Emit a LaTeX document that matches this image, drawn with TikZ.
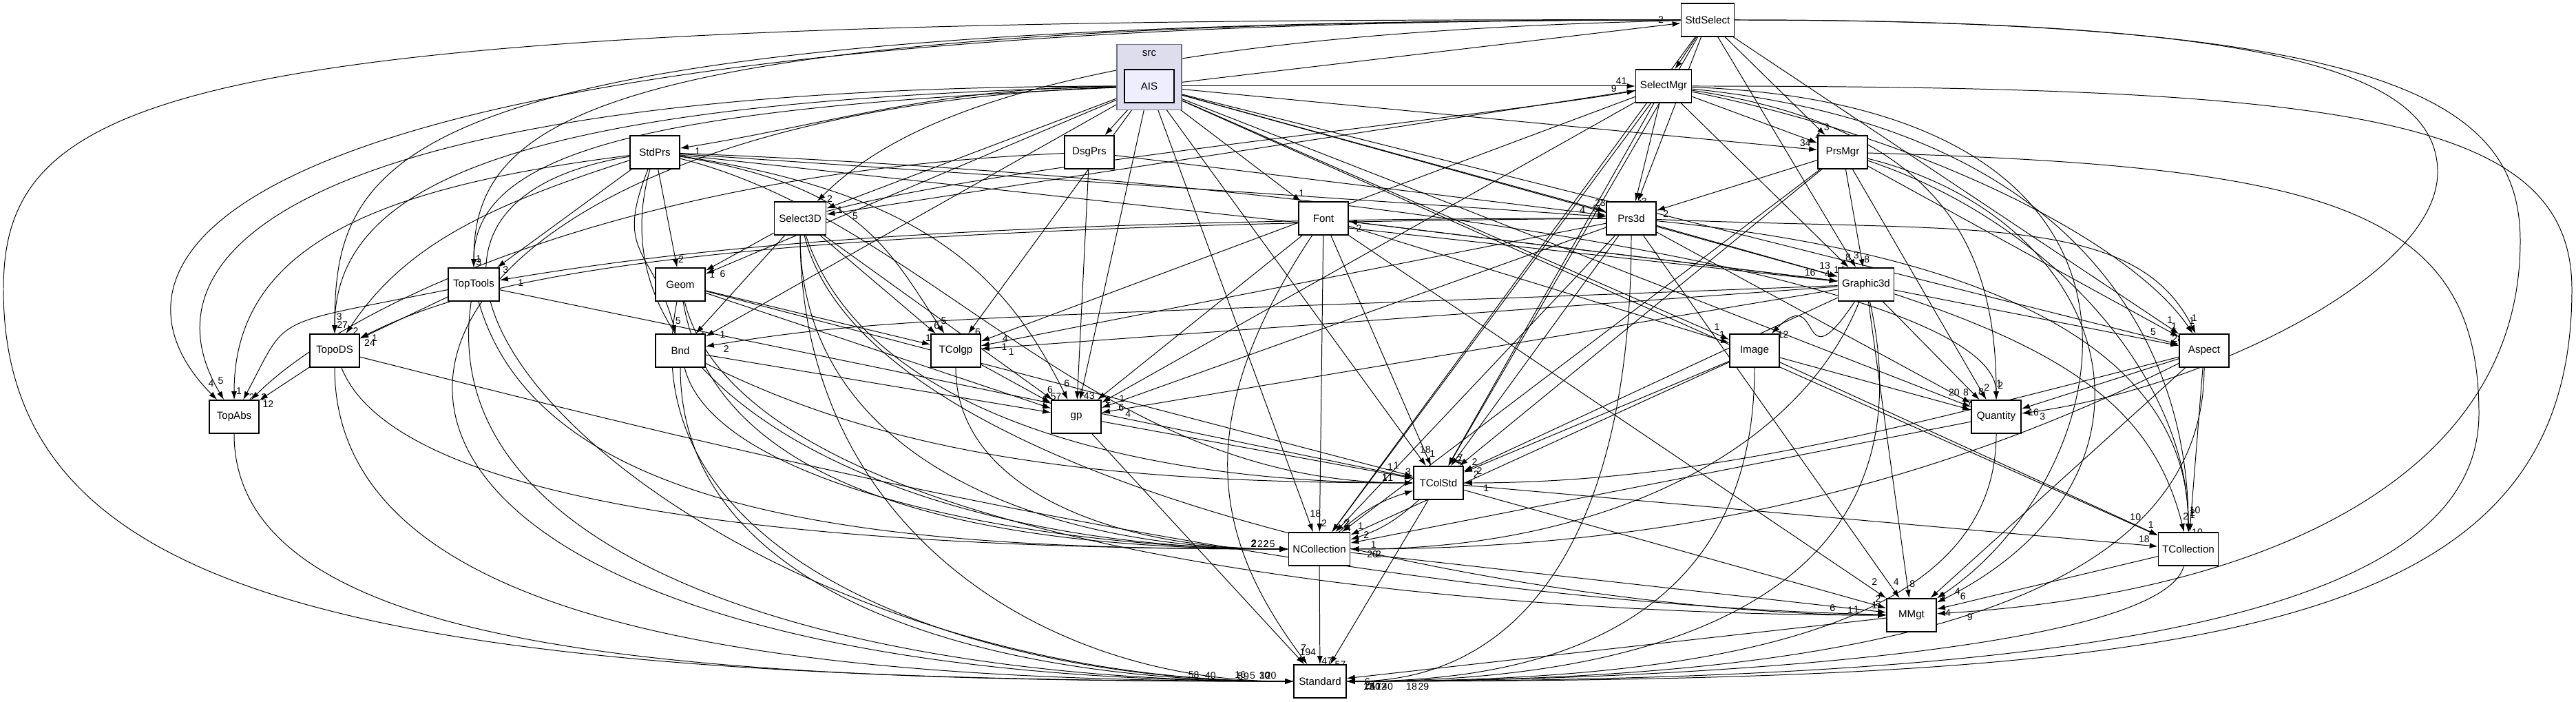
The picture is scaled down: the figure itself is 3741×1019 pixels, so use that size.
\documentclass[tikz,border=0pt]{standalone}
\usepackage{fontspec}
\setmainfont{Liberation Sans}
\usetikzlibrary{arrows.meta,backgrounds}
\definecolor{srcfill}{HTML}{DDDDEE}
\definecolor{srcline}{HTML}{6E6E8A}
\definecolor{aisfill}{HTML}{EEEEFF}
\begin{document}
\begin{tikzpicture}[
  x=0.01cm, y=-0.01cm,
  dirbox/.style={draw, line width=0.45pt, fill=white, minimum width=0.72cm, minimum height=0.48cm, inner sep=1pt, font=\fontsize{4.3}{5}\selectfont},
  dep/.style={->, line width=0.28pt},
  num/.style={auto, pos=0.97, font=\fontsize{4}{4}\selectfont, inner sep=0.6pt},
  >={Latex[length=1.2mm,width=0.8mm]}
]
  \useasboundingbox (0,0) rectangle (3741,1019);

  \node[draw=srcline, line width=0.45pt, fill=srcfill, minimum width=0.94cm, minimum height=0.95cm] (srcbox) at (1669,112) {};
  \node[font=\fontsize{4.3}{5}\selectfont] (srclabel) at (1669,78) {src};
  \node[dirbox, fill=aisfill] (AIS) at (1669,125) {AIS};

  \node[dirbox, minimum width=0.77cm] (StdSelect) at (2480,29) {StdSelect};
  \node[dirbox, minimum width=0.81cm] (SelectMgr) at (2416,125) {SelectMgr};
  \node[dirbox] (StdPrs) at (951,221) {StdPrs};
  \node[dirbox] (DsgPrs) at (1582,221) {DsgPrs};
  \node[dirbox] (PrsMgr) at (2676,221) {PrsMgr};
  \node[dirbox, minimum width=0.75cm] (Select3D) at (1162,317) {Select3D};
  \node[dirbox] (Font) at (1922,317) {Font};
  \node[dirbox] (Prs3d) at (2369,317) {Prs3d};
  \node[dirbox, minimum width=0.74cm] (TopTools) at (688,413) {TopTools};
  \node[dirbox] (Geom) at (988,413) {Geom};
  \node[dirbox, minimum width=0.81cm] (Graphic3d) at (2710,413) {Graphic3d};
  \node[dirbox] (TopoDS) at (486,509) {TopoDS};
  \node[dirbox] (Bnd) at (988,509) {Bnd};
  \node[dirbox] (TColgp) at (1388,509) {TColgp};
  \node[dirbox] (Image) at (2548,509) {Image};
  \node[dirbox] (Aspect) at (3201,509) {Aspect};
  \node[dirbox] (TopAbs) at (340,605) {TopAbs};
  \node[dirbox] (gp) at (1563,605) {gp};
  \node[dirbox] (Quantity) at (2899,605) {Quantity};
  \node[dirbox] (TColStd) at (2089,701) {TColStd};
  \node[dirbox, minimum width=0.89cm] (NCollection) at (1916,797) {NCollection};
  \node[dirbox, minimum width=0.87cm] (TCollection) at (3178,797) {TCollection};
  \node[dirbox] (MMgt) at (2776,893) {MMgt};
  \node[dirbox, minimum width=0.76cm] (Standard) at (1917,989) {Standard};

  \begin{pgfonlayer}{background}
  \draw[dep] (AIS) -- (StdSelect) node[num]{2};
  \draw[dep] (AIS) -- (SelectMgr) node[num]{41};
  \draw[dep] (AIS) -- (DsgPrs) node[num]{7};
  \draw[dep] (AIS) .. controls +(-300,0) and +(250,-40) .. (StdPrs) node[num]{1};
  \draw[dep] (AIS) -- (Select3D) node[num]{1};
  \draw[dep] (AIS) -- (Font) node[num]{1};
  \draw[dep] (AIS) -- (Prs3d) node[num]{23};
  \draw[dep] (AIS) -- (PrsMgr) node[num]{34};
  \draw[dep] (AIS) -- (Graphic3d) node[num]{13};
  \draw[dep] (AIS) -- (Geom) node[num]{6};
  \draw[dep] (AIS) .. controls +(-700,30) and +(0,-200) .. (TopTools) node[num]{3};
  \draw[dep] (AIS) .. controls +(-900,20) and +(0,-250) .. (TopoDS) node[num]{27};
  \draw[dep] (AIS) .. controls +(-1200,0) and +(-150,-250) .. (TopAbs) node[num]{5};
  \draw[dep] (AIS) -- (Bnd) node[num]{1};
  \draw[dep] (AIS) -- (TColgp) node[num]{6};
  \draw[dep] (AIS) -- (gp) node[num]{43};
  \draw[dep] (AIS) -- (Image) node[num]{1};
  \draw[dep] (AIS) -- (Aspect) node[num]{5};
  \draw[dep] (AIS) -- (Quantity) node[num]{20};
  \draw[dep] (AIS) -- (TColStd) node[num]{18};
  \draw[dep] (AIS) -- (NCollection) node[num]{18};
  \draw[dep] (AIS) -- (TCollection) node[num]{10};
  \draw[dep] (AIS) .. controls +(-1300,40) and +(-1700,0) .. (Standard) node[num]{58};

  \draw[dep] (StdSelect) -- (SelectMgr) node[num]{8};
  \draw[dep] (StdSelect) -- (PrsMgr) node[num]{3};
  \draw[dep] (StdSelect) -- (Prs3d) node[num]{3};
  \draw[dep] (StdSelect) .. controls +(-900,20) and +(150,-150) .. (Select3D) node[num]{2};
  \draw[dep] (StdSelect) -- (Graphic3d) node[num]{3};
  \draw[dep] (StdSelect) .. controls +(-1600,0) and +(0,-250) .. (TopTools) node[num]{1};
  \draw[dep] (StdSelect) .. controls +(-1900,0) and +(0,-300) .. (TopoDS) node[num]{3};
  \draw[dep] (StdSelect) .. controls +(-2300,0) and +(-200,-200) .. (TopAbs) node[num]{4};
  \draw[dep] (StdSelect) -- (Aspect) node[num]{1};
  \draw[dep] (StdSelect) .. controls +(800,0) and +(0,-150) .. (3540,250) .. controls +(0,150) and +(300,-40) .. (Quantity) node[num]{3};
  \draw[dep] (StdSelect) -- (TColStd) node[num]{7};
  \draw[dep] (StdSelect) -- (NCollection) node[num]{2};
  \draw[dep] (StdSelect) .. controls +(1000,0) and +(0,-200) .. (3660,350) .. controls +(0,350) and +(500,-30) .. (MMgt) node[num]{9};
  \draw[dep] (StdSelect) .. controls +(-2200,-5) and +(0,-300) .. (5,420) .. controls +(0,450) and +(-1400,0) .. (Standard) node[num]{40};

  \draw[dep] (SelectMgr) -- (Select3D) node[num]{5};
  \draw[dep] (SelectMgr) -- (PrsMgr) node[num]{4};
  \draw[dep] (SelectMgr) -- (Prs3d) node[num]{1};
  \draw[dep] (SelectMgr) -- (Graphic3d) node[num]{8};
  \draw[dep] (SelectMgr) -- (TColgp) node[num]{4};
  \draw[dep] (SelectMgr) -- (gp) node[num]{1};
  \draw[dep] (SelectMgr) .. controls +(400,80) and +(-100,-150) .. (Aspect) node[num]{1};
  \draw[dep] (SelectMgr) .. controls +(400,60) and +(0,-250) .. (Quantity) node[num]{2};
  \draw[dep] (SelectMgr) -- (TColStd) node[num]{2};
  \draw[dep] (SelectMgr) -- (NCollection) node[num]{2};
  \draw[dep] (SelectMgr) .. controls +(600,60) and +(0,-300) .. (TCollection) node[num]{1};
  \draw[dep] (SelectMgr) .. controls +(800,30) and +(300,-200) .. (MMgt) node[num]{4};
  \draw[dep] (SelectMgr) .. controls +(1000,0) and +(0,-250) .. (3735,420) .. controls +(0,500) and +(1300,0) .. (Standard) node[num]{29};

  \draw[dep] (Select3D) .. controls +(300,-80) and +(-300,50) .. (SelectMgr) node[num]{9};
  \draw[dep] (Select3D) -- (Geom) node[num]{1};
  \draw[dep] (Select3D) -- (Bnd) node[num]{1};
  \draw[dep] (Select3D) -- (TColgp) node[num]{6};
  \draw[dep] (Select3D) -- (gp) node[num]{6};
  \draw[dep] (Select3D) .. controls +(100,300) and +(-400,0) .. (TColStd) node[num]{1};
  \draw[dep] (Select3D) .. controls +(0,350) and +(-400,0) .. (NCollection) node[num]{2};
  \draw[dep] (Select3D) .. controls +(100,400) and +(-500,0) .. (MMgt) node[num]{1};
  \draw[dep] (Select3D) .. controls +(0,450) and +(-400,0) .. (Standard) node[num]{20};

  \draw[dep] (DsgPrs) -- (Prs3d) node[num]{8};
  \draw[dep] (DsgPrs) -- (gp) node[num]{1};
  \draw[dep] (DsgPrs) .. controls +(-700,30) and +(150,-150) .. (TopAbs) node[num]{2};

  \draw[dep] (StdPrs) -- (Prs3d) node[num]{4};
  \draw[dep] (StdPrs) -- (Graphic3d) node[num]{16};
  \draw[dep] (StdPrs) -- (TopTools) node[num]{3};
  \draw[dep] (StdPrs) .. controls +(-250,80) and +(100,-150) .. (TopoDS) node[num]{2};
  \draw[dep] (StdPrs) .. controls +(-400,50) and +(0,-250) .. (TopAbs) node[num]{1};
  \draw[dep] (StdPrs) -- (Geom) node[num]{2};
  \draw[dep] (StdPrs) .. controls +(-60,150) and +(-40,-150) .. (Bnd) node[num]{5};
  \draw[dep] (StdPrs) .. controls +(300,50) and +(-100,-150) .. (TColgp) node[num]{5};
  \draw[dep] (StdPrs) .. controls +(400,60) and +(-100,-200) .. (gp) node[num]{6};
  \draw[dep] (StdPrs) .. controls +(1000,40) and +(0,-200) .. (Quantity) node[num]{1};
  \draw[dep] (StdPrs) .. controls +(400,100) and +(-500,0) .. (TColStd) node[num]{1};
  \draw[dep] (StdPrs) .. controls +(-100,350) and +(-600,0) .. (NCollection) node[num]{2};
  \draw[dep] (StdPrs) .. controls +(-600,100) and +(-900,0) .. (Standard) node[num]{16};

  \draw[dep] (PrsMgr) -- (Prs3d) node[num]{2};
  \draw[dep] (PrsMgr) -- (Graphic3d) node[num]{8};
  \draw[dep] (PrsMgr) -- (Aspect) node[num]{1};
  \draw[dep] (PrsMgr) -- (Quantity) node[num]{2};
  \draw[dep] (PrsMgr) -- (TColStd) node[num]{2};
  \draw[dep] (PrsMgr) -- (NCollection) node[num]{1};
  \draw[dep] (PrsMgr) .. controls +(300,100) and +(0,-250) .. (TCollection) node[num]{2};
  \draw[dep] (PrsMgr) .. controls +(400,100) and +(400,-200) .. (MMgt) node[num]{6};
  \draw[dep] (PrsMgr) .. controls +(700,20) and +(0,-300) .. (3600,600) .. controls +(0,300) and +(1100,0) .. (Standard) node[num]{18};

  \draw[dep] (Font) -- (Graphic3d) node[num]{4};
  \draw[dep] (Font) -- (Image) node[num]{1};
  \draw[dep] (Font) -- (TColStd) node[num]{1};
  \draw[dep] (Font) -- (NCollection) node[num]{2};
  \draw[dep] (Font) -- (MMgt) node[num]{2};
  \draw[dep] (Font) -- (gp) node[num]{2};
  \draw[dep] (Font) .. controls +(-200,300) and +(-150,-200) .. (Standard) node[num]{7};

  \draw[dep] (Prs3d) -- (Graphic3d) node[num]{14};
  \draw[dep] (Prs3d) .. controls +(500,20) and +(-100,-200) .. (Aspect) node[num]{1};
  \draw[dep] (Prs3d) -- (Quantity) node[num]{8};
  \draw[dep] (Prs3d) .. controls +(-1000,0) and +(300,-50) .. (TopTools) node[num]{1};
  \draw[dep] (Prs3d) .. controls +(-1400,10) and +(200,-100) .. (TopoDS) node[num]{1};
  \draw[dep] (Prs3d) -- (gp) node[num]{6};
  \draw[dep] (Prs3d) -- (TColgp) node[num]{1};
  \draw[dep] (Prs3d) -- (TColStd) node[num]{5};
  \draw[dep] (Prs3d) -- (NCollection) node[num]{4};
  \draw[dep] (Prs3d) .. controls +(500,50) and +(0,-300) .. (TCollection) node[num]{10};
  \draw[dep] (Prs3d) -- (MMgt) node[num]{4};
  \draw[dep] (Prs3d) .. controls +(0,450) and +(300,0) .. (Standard) node[num]{24};

  \draw[dep] (TopTools) -- (TopoDS) node[num]{24};
  \draw[dep] (TopTools) .. controls +(-300,60) and +(80,-150) .. (TopAbs) node[num]{2};
  \draw[dep] (TopTools) -- (TColStd) node[num]{1};
  \draw[dep] (TopTools) .. controls +(100,350) and +(-600,0) .. (NCollection) node[num]{2};
  \draw[dep] (TopTools) .. controls +(-60,400) and +(-700,0) .. (Standard) node[num]{5};

  \draw[dep] (Geom) -- (TColgp) node[num]{10};
  \draw[dep] (Geom) -- (gp) node[num]{6};
  \draw[dep] (Geom) -- (TColStd) node[num]{1};
  \draw[dep] (Geom) .. controls +(50,300) and +(-500,0) .. (NCollection) node[num]{2};
  \draw[dep] (Geom) .. controls +(100,400) and +(-600,0) .. (MMgt) node[num]{1};
  \draw[dep] (Geom) .. controls +(-80,400) and +(-500,0) .. (Standard) node[num]{30};

  \draw[dep] (Graphic3d) -- (Font) node[num]{2};
  \draw[dep] (Graphic3d) -- (Aspect) node[num]{28};
  \draw[dep] (Graphic3d) -- (Quantity) node[num]{8};
  \draw[dep] (Graphic3d) .. controls +(-100,150) and +(100,-100) .. (Image) node[num]{12};
  \draw[dep] (Graphic3d) .. controls +(-1300,50) and +(300,-50) .. (Bnd) node[num]{2};
  \draw[dep] (Graphic3d) -- (TColgp) node[num]{1};
  \draw[dep] (Graphic3d) -- (gp) node[num]{4};
  \draw[dep] (Graphic3d) -- (TColStd) node[num]{2};
  \draw[dep] (Graphic3d) .. controls +(-100,250) and +(400,0) .. (NCollection) node[num]{20};
  \draw[dep] (Graphic3d) .. controls +(300,100) and +(-50,-200) .. (TCollection) node[num]{2};
  \draw[dep] (Graphic3d) -- (MMgt) node[num]{8};
  \draw[dep] (Graphic3d) .. controls +(100,450) and +(500,0) .. (Standard) node[num]{50};

  \draw[dep] (TopoDS) -- (TopAbs) node[num]{12};
  \draw[dep] (TopoDS) .. controls +(100,250) and +(-600,0) .. (NCollection) node[num]{2};
  \draw[dep] (TopoDS) .. controls +(400,100) and +(-900,-20) .. (MMgt) node[num]{6};
  \draw[dep] (TopoDS) .. controls +(0,400) and +(-800,0) .. (Standard) node[num]{9};

  \draw[dep] (Bnd) -- (gp) node[num]{6};
  \draw[dep] (Bnd) .. controls +(300,150) and +(-500,0) .. (TColStd) node[num]{1};
  \draw[dep] (Bnd) .. controls +(50,200) and +(-400,0) .. (NCollection) node[num]{2};
  \draw[dep] (Bnd) .. controls +(0,350) and +(-500,0) .. (Standard) node[num]{10};

  \draw[dep] (TColgp) -- (gp) node[num]{57};
  \draw[dep] (TColgp) .. controls +(0,200) and +(-300,0) .. (NCollection) node[num]{5};

  \draw[dep] (Image) -- (Quantity) node[num]{7};
  \draw[dep] (Image) -- (TColStd) node[num]{2};
  \draw[dep] (Image) -- (NCollection) node[num]{2};
  \draw[dep] (Image) -- (TCollection) node[num]{1};
  \draw[dep] (Image) .. controls +(0,350) and +(400,0) .. (Standard) node[num]{12};

  \draw[dep] (Aspect) -- (Quantity) node[num]{16};
  \draw[dep] (Aspect) .. controls +(-400,100) and +(400,0) .. (TColStd) node[num]{1};
  \draw[dep] (Aspect) .. controls +(-400,200) and +(500,0) .. (NCollection) node[num]{2};
  \draw[dep] (Aspect) -- (TCollection) node[num]{10};
  \draw[dep] (Aspect) -- (MMgt) node[num]{5};
  \draw[dep] (Aspect) .. controls +(0,400) and +(700,0) .. (Standard) node[num]{40};

  \draw[dep] (TopAbs) .. controls +(0,350) and +(-900,0) .. (Standard) node[num]{5};
  \draw[dep] (gp) -- (TColStd) node[num]{3};
  \draw[dep] (gp) -- (Standard) node[num]{194};
  \draw[dep] (Quantity) -- (NCollection) node[num]{1};
  \draw[dep] (Quantity) .. controls +(0,300) and +(600,0) .. (Standard) node[num]{12};
  \draw[dep] (TColStd) to[bend left=12] (NCollection) node[num]{58};
  \draw[dep] (NCollection) to[bend left=12] (TColStd) node[num]{1};
  \draw[dep] (TColStd) -- (Standard) node[num]{57};
  \draw[dep] (TColStd) -- (MMgt) node[num]{2};
  \draw[dep] (TColStd) -- (TCollection) node[num]{18};
  \draw[dep] (NCollection) -- (Standard) node[num]{47};
  \draw[dep] (NCollection) -- (MMgt) node[num]{1};
  \draw[dep] (TCollection) -- (MMgt) node[num]{4};
  \draw[dep] (TCollection) .. controls +(-40,150) and +(500,0) .. (Standard) node[num]{17};
  \draw[dep] (MMgt) -- (Standard) node[num]{6};
  \end{pgfonlayer}
\end{tikzpicture}
\end{document}
